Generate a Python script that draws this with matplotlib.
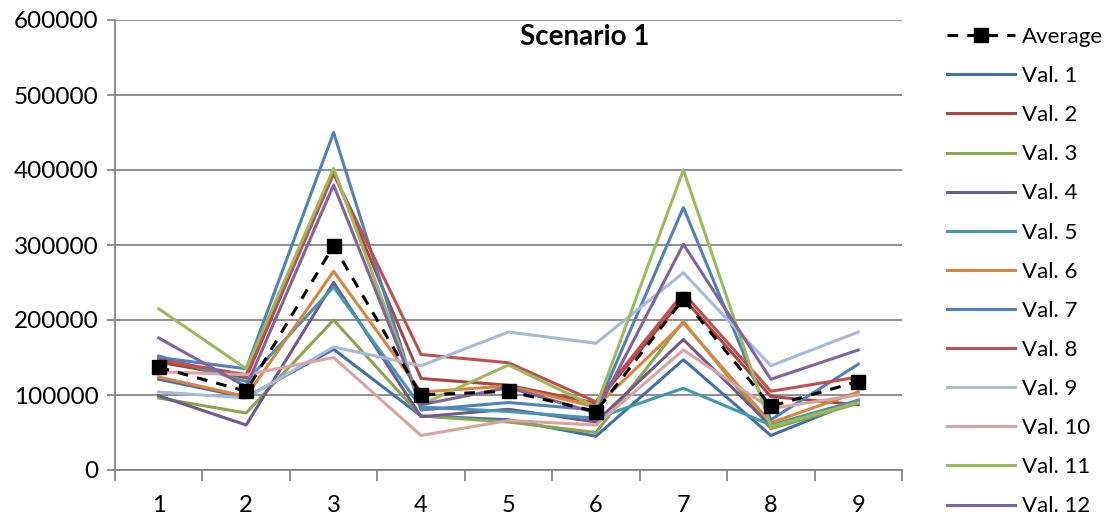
import numpy as np
from matplotlib import pyplot as plt
from matplotlib.ticker import MultipleLocator

plt.rcParams['font.family'] = ['Lato', 'DejaVu Sans']

# x categories
points = [1, 2, 3, 4, 5, 6, 7, 8, 9]

average = [137000, 105000, 299000, 100000, 105000, 78000, 228000, 85000, 118000]
val1 = [121000, 97000, 161000, 72000, 67000, 45000, 147000, 46000, 93000]
val2 = [144000, 123000, 397000, 122000, 113000, 89000, 229000, 98000, 87000]
val3 = [96000, 76000, 200000, 72000, 64000, 50000, 198000, 55000, 89000]
val4 = [99000, 60000, 250000, 71000, 81000, 64000, 174000, 59000, 90000]
val5 = [152000, 118000, 244000, 84000, 78000, 69000, 109000, 60000, 93000]
val6 = [124000, 98000, 265000, 104000, 112000, 84000, 196000, 63000, 104000]
val7 = [150000, 135000, 450000, 80000, 90000, 80000, 350000, 67000, 141000]
val8 = [147000, 127000, 395000, 154000, 143000, 91000, 236000, 105000, 124000]
val9 = [104000, 96000, 164000, 139000, 184000, 169000, 263000, 139000, 184000]
val10 = [131000, 127000, 150000, 46000, 66000, 60000, 160000, 82000, 100000]
val11 = [215000, 135000, 402000, 87000, 140000, 84000, 400000, 58000, 90000]
val12 = [176000, 111000, 380000, 87000, 110000, 76000, 301000, 121000, 160000]

series = [val1, val2, val3, val4, val5, val6, val7, val8, val9, val10, val11, val12]
labels = ["Val. %d" % (i + 1) for i in range(12)]
colors = ['#4170AA', '#AA4643', '#89A54E', '#71588F', '#4198AF', '#DB843D',
          '#4F81BD', '#C0504D', '#A5B9DA', '#D9A3A1', '#9BBB59', '#8064A2']

fig = plt.figure(figsize=(11.07, 5.28), dpi=100)
ax = fig.add_axes([115 / 1107, 58 / 528, 787 / 1107, 450 / 528])

handles = []
for vals, lab, col in zip(series, labels, colors):
    h, = ax.plot(points, vals, color=col, lw=2.2, label=lab)
    handles.append(h)
havg, = ax.plot(points, average, color='black', lw=2.2, ls=(0, (3.5, 3)),
                marker='s', markersize=10, label='Average')

ax.set_xlim(0.5, 9.5)
ax.set_ylim(0, 600000)
ax.yaxis.set_major_locator(MultipleLocator(100000))
ax.set_xticks(points)
ax.set_xticks(np.arange(0.5, 10, 1), minor=True)
ax.tick_params(axis='x', which='major', length=0, pad=18, labelsize=17)
ax.tick_params(axis='x', which='minor', length=8, width=1.3, color='#868686')
ax.tick_params(axis='y', length=6, width=1.3, color='#868686', labelsize=17.5, pad=6)
ax.grid(axis='y', color='#868686', lw=1.3)
ax.set_axisbelow(True)
for s in ['top', 'right']:
    ax.spines[s].set_visible(False)
for s in ['left', 'bottom']:
    ax.spines[s].set_color('#868686')
    ax.spines[s].set_linewidth(1.3)

ax.text(0.597, 0.962, 'Scenario 1', transform=ax.transAxes, ha='center', va='center',
        fontsize=20, fontweight='bold')

fig.legend([havg] + handles, ['Average'] + labels, loc='upper left',
           bbox_to_anchor=(927 / 1107, 1 - 7 / 528), frameon=False, fontsize=16,
           handlelength=3.06, labelspacing=0.86, handletextpad=0.3)

plt.savefig('out.png')
